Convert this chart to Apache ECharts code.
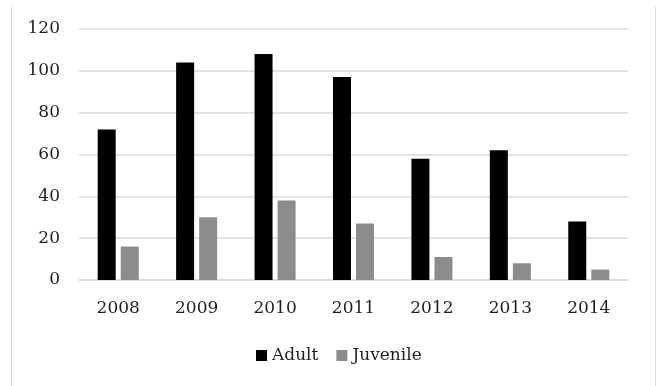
<!DOCTYPE html>
<html>
<head>
<meta charset="utf-8">
<script src="https://cdn.jsdelivr.net/npm/echarts@6/dist/echarts.min.js"></script>
<style>
  html, body { margin: 0; padding: 0; background: #fff; }
  #chart { width: 657px; height: 386px; }
</style>
</head>
<body>
<div id="chart"></div>
<script>
// Yearly counts by age class
var years = ['2008', '2009', '2010', '2011', '2012', '2013', '2014'];
var adult = [72, 104, 108, 97, 58, 62, 28];
var juvenile = [16, 30, 38, 27, 11, 8, 5];
var yTicks = { min: 0, max: 120, interval: 20 };

var FONT = 'DejaVu Serif';
var TEXT = '#1f1f1f';
var GRID = '#d9d9d9';

var chart = echarts.init(document.getElementById('chart'), null, { renderer: 'canvas' });

chart.setOption({
  backgroundColor: '#ffffff',
  animation: false,
  textStyle: { fontFamily: FONT, color: TEXT },
  graphic: [
    { type: 'line', shape: { x1: 11.5, y1: 7, x2: 11.5, y2: 386 }, style: { stroke: GRID, lineWidth: 1 } },
    { type: 'line', shape: { x1: 655.5, y1: 7, x2: 655.5, y2: 386 }, style: { stroke: GRID, lineWidth: 1 } }
  ],
  grid: { left: 79, right: 29, top: 29, bottom: 106, containLabel: false },
  legend: {
    data: ['Adult', 'Juvenile'],
    bottom: 17,
    left: 251,
    itemWidth: 11,
    itemHeight: 11,
    itemGap: 18,
    icon: 'rect',
    textStyle: { fontFamily: FONT, fontSize: 17, color: TEXT }
  },
  xAxis: {
    type: 'category',
    data: years,
    axisLine: { show: true, lineStyle: { color: GRID, width: 1.5 } },
    axisTick: { show: false },
    axisLabel: { fontFamily: FONT, fontSize: 17, color: TEXT, margin: 20 }
  },
  yAxis: {
    type: 'value',
    min: yTicks.min,
    max: yTicks.max,
    interval: yTicks.interval,
    axisLine: { show: false },
    axisTick: { show: false },
    splitLine: { lineStyle: { color: GRID, width: 1.5 } },
    axisLabel: { fontFamily: FONT, fontSize: 17, color: TEXT, margin: 19 }
  },
  series: [
    {
      name: 'Adult',
      type: 'bar',
      data: adult,
      itemStyle: { color: '#000000' },
      barWidth: 18,
      barGap: '28%'
    },
    {
      name: 'Juvenile',
      type: 'bar',
      data: juvenile,
      itemStyle: { color: '#8c8c8c' },
      barWidth: 18,
      barGap: '28%'
    }
  ]
});
</script>
</body>
</html>
